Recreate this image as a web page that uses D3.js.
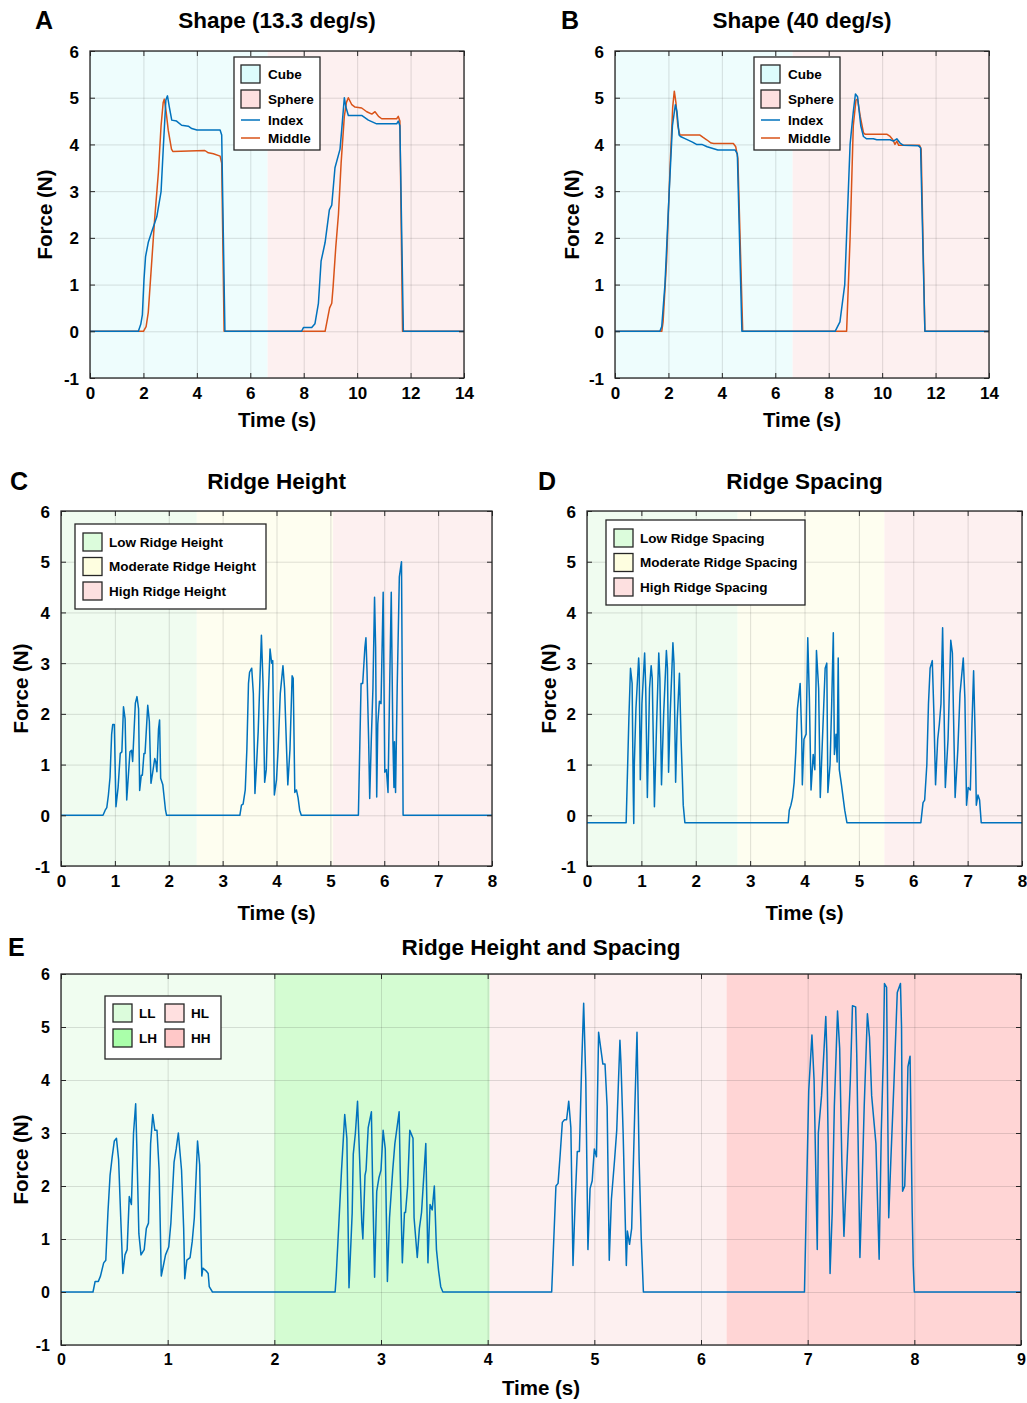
<!DOCTYPE html>
<html>
<head>
<meta charset="utf-8">
<script src="https://cdn.jsdelivr.net/npm/d3@7"></script>
<style>
  body { margin: 0; background: #fff; }
  svg text { font-family: "Liberation Sans", Arial, sans-serif; font-weight: bold; fill: #000; }
</style>
</head>
<body>
<div class="graphic"></div>
<script>
const W = 1027, H = 1403;

// ---- data (time s, force N) ----
const yTicks = [-1, 0, 1, 2, 3, 4, 5, 6];
const shapeTicks = [0, 2, 4, 6, 8, 10, 12, 14];
const ridgeTicks = [0, 1, 2, 3, 4, 5, 6, 7, 8];
const hsTicks = [0, 1, 2, 3, 4, 5, 6, 7, 8, 9];

const shapeRegions = [
  {name: "Cube", t0: 0, t1: 6.65},
  {name: "Sphere", t0: 6.65, t1: 14}
];
const heightRegions = [
  {name: "Low Ridge Height", t0: 0, t1: 2.52},
  {name: "Moderate Ridge Height", t0: 2.52, t1: 5.05},
  {name: "High Ridge Height", t0: 5.05, t1: 8}
];
const spacingRegions = [
  {name: "Low Ridge Spacing", t0: 0, t1: 2.77},
  {name: "Moderate Ridge Spacing", t0: 2.77, t1: 5.47},
  {name: "High Ridge Spacing", t0: 5.47, t1: 8}
];
const hsRegions = [
  {name: "LL", t0: 0, t1: 2.0},
  {name: "LH", t0: 2.0, t1: 4.02},
  {name: "HL", t0: 4.02, t1: 6.24},
  {name: "HH", t0: 6.24, t1: 9}
];

const slowIndex = [[0,0],[1.81,0],[1.9,0.15],[1.96,0.35],[2.02,1.1],[2.08,1.6],[2.18,1.9],[2.31,2.13],[2.5,2.45],
  [2.66,2.99],[2.75,4.0],[2.84,4.95],[2.9,5.04],[2.97,4.8],[3.06,4.52],[3.24,4.5],[3.43,4.41],[3.68,4.39],[3.81,4.34],
  [4.0,4.31],[4.87,4.31],[4.93,4.2],[5.05,0],[7.92,0],[7.99,0.08],[8.3,0.08],[8.42,0.16],[8.55,0.6],[8.65,1.5],
  [8.8,1.9],[8.96,2.6],[9.05,2.7],[9.17,3.5],[9.36,3.9],[9.42,4.3],[9.52,5.0],[9.58,4.8],[9.67,4.62],[10.17,4.62],
  [10.42,4.52],[10.73,4.44],[11.48,4.44],[11.54,4.5],[11.6,4.4],[11.73,0],[14,0]];
const slowMiddle = [[0,0],[2.0,0],[2.1,0.1],[2.18,0.4],[2.3,1.4],[2.42,2.4],[2.56,3.4],[2.66,4.4],[2.74,4.9],
  [2.78,4.97],[2.85,4.7],[2.93,4.3],[3.05,3.9],[3.1,3.85],[4.3,3.87],[4.43,3.82],[4.62,3.8],[4.87,3.75],[4.93,3.6],
  [5.02,0],[8.8,0],[8.97,0.5],[9.05,0.6],[9.1,0.95],[9.2,1.8],[9.3,2.5],[9.4,3.6],[9.52,4.6],[9.6,4.9],[9.67,5.0],
  [9.8,4.85],[9.92,4.8],[10.17,4.78],[10.36,4.7],[10.55,4.65],[10.67,4.7],[10.8,4.6],[10.92,4.55],[11.48,4.55],
  [11.54,4.6],[11.6,4.5],[11.7,0],[14,0]];
const fastIndex = [[0,0],[1.68,0],[1.75,0.1],[1.87,1.0],[2.03,3.0],[2.15,4.4],[2.26,4.85],[2.32,4.7],[2.4,4.2],
  [2.45,4.17],[2.6,4.13],[2.9,4.05],[3.05,4.0],[3.25,4.0],[3.45,3.95],[3.85,3.88],[4.5,3.88],[4.58,3.8],[4.66,2.0],
  [4.75,0],[8.24,0],[8.42,0.2],[8.6,1.0],[8.8,4.0],[8.92,4.7],[9.0,5.08],[9.08,5.02],[9.2,4.4],[9.3,4.17],[9.42,4.12],
  [9.67,4.12],[9.8,4.1],[10.3,4.1],[10.42,4.07],[10.55,4.12],[10.67,4.03],[10.8,3.98],[11.36,3.97],[11.44,3.93],
  [11.6,0],[14,0]];
const fastMiddle = [[0,0],[1.75,0],[1.8,0.2],[1.93,1.5],[2.06,3.5],[2.16,4.8],[2.22,5.14],[2.28,4.9],[2.35,4.4],
  [2.43,4.2],[3.18,4.2],[3.3,4.15],[3.43,4.1],[3.6,4.03],[3.7,4.02],[4.43,4.02],[4.52,3.95],[4.6,3.7],[4.78,0],
  [8.67,0],[8.8,2.0],[8.92,4.4],[9.02,4.95],[9.08,4.97],[9.18,4.6],[9.3,4.25],[9.36,4.22],[10.17,4.22],[10.3,4.17],
  [10.4,4.1],[10.48,4.0],[10.55,4.07],[10.62,3.98],[11.4,3.98],[11.46,3.9],[11.6,0],[14,0]];

const ridgeHeight = [[0,0],[0.78,0],[0.82,0.1],[0.85,0.15],[0.88,0.4],[0.91,0.75],[0.94,1.6],[0.96,1.79],[0.99,1.79],
  [1.02,0.17],[1.06,0.55],[1.1,1.22],[1.13,1.25],[1.16,2.14],[1.19,1.9],[1.22,0.3],[1.28,1.25],[1.31,1.28],[1.33,1.06],
  [1.38,2.21],[1.41,2.34],[1.44,2.1],[1.46,0.49],[1.49,0.79],[1.51,0.79],[1.54,1.22],[1.56,1.22],[1.61,2.17],
  [1.64,1.85],[1.67,0.63],[1.7,0.83],[1.74,1.12],[1.76,1.05],[1.78,0.86],[1.81,1.7],[1.83,1.88],[1.85,0.73],
  [1.89,0.6],[1.91,0.4],[1.94,0.1],[1.96,0],
  [3.32,0],[3.35,0.2],[3.38,0.22],[3.42,0.5],[3.45,1.3],[3.48,2.6],[3.5,2.82],[3.54,2.9],[3.57,2.4],[3.6,0.43],
  [3.63,1.0],[3.66,1.65],[3.69,2.6],[3.72,3.55],[3.75,2.6],[3.78,0.65],[3.81,0.9],[3.85,2.4],[3.88,3.28],[3.91,3.0],
  [3.93,3.05],[3.96,0.4],[4.0,0.7],[4.03,1.3],[4.07,2.4],[4.12,2.95],[4.15,2.5],[4.19,1.2],[4.21,0.6],[4.25,1.3],
  [4.29,2.75],[4.31,2.7],[4.34,0.45],[4.37,0.5],[4.4,0.35],[4.43,0.1],[4.46,0],
  [5.52,0],[5.57,2.6],[5.6,2.6],[5.64,3.3],[5.66,3.5],[5.68,2.85],[5.71,1.5],[5.73,0.33],[5.76,1.5],[5.79,2.5],
  [5.82,4.3],[5.84,3.3],[5.86,0.36],[5.88,1.8],[5.91,2.25],[5.94,2.2],[5.98,4.4],[6.01,0.85],[6.04,0.9],[6.07,0.45],
  [6.1,2.5],[6.13,4.4],[6.16,1.5],[6.18,0.55],[6.19,1.45],[6.21,0.45],[6.24,2.5],[6.28,4.7],[6.32,5.0],[6.35,0],[8,0]];

const ridgeSpacing = [[0,-0.145],[0.72,-0.145],[0.77,1.9],[0.8,2.9],[0.83,2.6],[0.85,0.5],[0.86,-0.16],[0.87,1.0],
  [0.9,2.1],[0.95,3.1],[0.96,2.9],[0.98,0.7],[1.01,2.2],[1.06,3.2],[1.08,2.5],[1.11,0.35],[1.15,2.5],[1.18,2.95],
  [1.2,2.7],[1.24,0.17],[1.28,1.8],[1.32,3.2],[1.34,2.7],[1.37,0.6],[1.41,2.0],[1.46,3.25],[1.48,2.9],[1.5,0.85],
  [1.53,2.0],[1.58,3.4],[1.6,3.0],[1.63,0.65],[1.66,1.9],[1.7,2.8],[1.73,1.5],[1.77,0.2],[1.8,-0.145],
  [3.7,-0.145],[3.72,0.1],[3.75,0.2],[3.78,0.35],[3.81,0.65],[3.84,1.25],[3.87,2.1],[3.92,2.6],[3.95,1.5],[3.96,0.6],
  [3.99,1.5],[4.03,1.6],[4.06,3.5],[4.09,2.3],[4.12,0.5],[4.16,1.2],[4.19,0.9],[4.22,3.25],[4.26,2.5],[4.29,0.35],
  [4.33,1.5],[4.38,2.9],[4.41,3.0],[4.43,0.45],[4.47,1.0],[4.5,2.2],[4.53,3.6],[4.55,1.2],[4.58,1.6],[4.6,1.05],
  [4.62,3.1],[4.64,0.9],[4.68,0.6],[4.74,0.1],[4.78,-0.145],
  [6.14,-0.145],[6.18,0.25],[6.21,0.3],[6.25,1.0],[6.28,2.2],[6.31,2.9],[6.35,3.05],[6.38,2.0],[6.41,0.6],[6.45,1.5],
  [6.48,1.8],[6.51,2.2],[6.54,3.7],[6.56,2.5],[6.59,0.55],[6.64,1.5],[6.69,3.45],[6.72,3.2],[6.74,2.0],[6.77,0.35],
  [6.82,1.3],[6.86,2.4],[6.92,3.1],[6.95,2.3],[6.98,0.2],[7.01,0.55],[7.05,0.5],[7.08,1.8],[7.11,2.85],[7.14,1.5],
  [7.16,0.2],[7.19,0.4],[7.22,0.3],[7.25,-0.145],[8,-0.145]];

const heightSpacing = [[0,0],[0.3,0],[0.32,0.2],[0.35,0.2],[0.37,0.3],[0.4,0.55],[0.42,0.6],[0.44,1.5],[0.46,2.2],
  [0.48,2.55],[0.5,2.85],[0.52,2.9],[0.54,2.5],[0.56,1.4],[0.58,0.35],[0.6,0.7],[0.62,0.8],[0.64,1.8],[0.66,1.65],
  [0.68,3.0],[0.7,3.55],[0.71,2.8],[0.73,1.1],[0.75,0.7],[0.78,0.8],[0.8,1.2],[0.82,1.3],[0.84,2.8],[0.86,3.35],
  [0.88,3.05],[0.9,3.05],[0.92,2.3],[0.94,0.3],[0.96,0.5],[0.98,0.7],[1.01,0.85],[1.03,1.3],[1.06,2.45],[1.08,2.7],
  [1.1,3.0],[1.13,2.3],[1.15,1.2],[1.16,0.25],[1.18,0.6],[1.21,0.65],[1.23,0.95],[1.25,1.4],[1.27,2.35],[1.28,2.85],
  [1.3,2.4],[1.32,0.3],[1.33,0.45],[1.36,0.4],[1.38,0.35],[1.39,0.1],[1.42,0],
  [2.57,0],[2.58,0.3],[2.61,1.5],[2.63,2.3],[2.66,3.35],[2.68,2.9],[2.7,0.08],[2.73,1.5],[2.74,2.6],[2.76,3.0],
  [2.78,3.6],[2.8,2.5],[2.82,1.3],[2.83,1.0],[2.85,2.2],[2.86,2.3],[2.88,3.1],[2.91,3.4],[2.92,2.2],[2.94,0.28],
  [2.96,1.9],[2.98,2.15],[3.0,2.3],[3.02,3.05],[3.04,2.7],[3.06,0.2],[3.08,1.4],[3.11,2.3],[3.13,2.8],[3.17,3.4],
  [3.18,2.3],[3.2,0.55],[3.22,1.5],[3.23,1.5],[3.25,2.0],[3.27,3.05],[3.3,2.9],[3.31,1.4],[3.34,0.65],[3.36,1.2],
  [3.38,1.5],[3.42,2.8],[3.44,0.55],[3.46,1.65],[3.48,1.55],[3.5,2.0],[3.52,0.8],[3.54,0.4],[3.56,0.1],[3.58,0],
  [4.6,0],[4.64,2.0],[4.66,2.05],[4.68,2.6],[4.7,3.2],[4.72,3.25],[4.74,3.25],[4.76,3.6],[4.78,3.1],[4.8,0.5],
  [4.82,1.7],[4.84,2.65],[4.86,2.65],[4.88,4.2],[4.9,5.45],[4.92,4.0],[4.94,0.8],[4.96,1.95],[4.98,2.1],[5.0,2.7],
  [5.02,2.55],[5.04,4.9],[5.06,4.6],[5.08,4.3],[5.1,4.3],[5.12,3.5],[5.14,0.6],[5.16,1.75],[5.19,2.5],[5.21,3.05],
  [5.24,4.75],[5.25,4.3],[5.27,3.0],[5.3,0.5],[5.31,1.15],[5.33,0.9],[5.35,1.2],[5.38,3.5],[5.4,4.9],[5.42,2.5],
  [5.44,1.0],[5.46,0],
  [6.97,0],[7.01,3.8],[7.04,4.85],[7.06,4.0],[7.09,0.8],[7.1,3.0],[7.13,3.7],[7.17,5.2],[7.18,4.5],[7.21,0.35],
  [7.23,1.5],[7.25,3.5],[7.28,5.3],[7.3,4.6],[7.32,2.5],[7.34,1.05],[7.37,2.5],[7.4,4.0],[7.42,5.4],[7.45,5.38],
  [7.46,4.5],[7.49,0.65],[7.51,2.0],[7.53,3.5],[7.56,5.25],[7.58,4.8],[7.6,3.7],[7.64,2.8],[7.67,0.62],[7.69,3.0],
  [7.71,4.5],[7.72,5.82],[7.74,5.75],[7.76,1.4],[7.78,2.5],[7.81,4.0],[7.84,5.65],[7.87,5.82],[7.88,5.0],[7.89,1.9],
  [7.91,2.0],[7.93,3.3],[7.94,4.25],[7.96,4.45],[7.98,1.5],[7.99,0.5],[8.0,0],[9,0]];

// ---- colours ----
const blue = "#0072BD", orange = "#D95319";
const bgColor = {
  "Cube": "#eefdfd", "Sphere": "#fdf0f0",
  "Low Ridge Height": "#f0fcf0", "Moderate Ridge Height": "#fefef0", "High Ridge Height": "#fdf0f0",
  "Low Ridge Spacing": "#f0fcf0", "Moderate Ridge Spacing": "#fefef0", "High Ridge Spacing": "#fdf0f0",
  "LL": "#f0fdf0", "LH": "#d4fcd2", "HL": "#fdf0f0", "HH": "#ffd5d5"
};
const swatchColor = {
  "Cube": "#dcfcfc", "Sphere": "#fde0e0",
  "Low Ridge Height": "#dcfcdc", "Moderate Ridge Height": "#fefee0", "High Ridge Height": "#fde0e0",
  "Low Ridge Spacing": "#dcfcdc", "Moderate Ridge Spacing": "#fefee0", "High Ridge Spacing": "#fde0e0",
  "LL": "#dcfcdc", "LH": "#aaffaa", "HL": "#ffe0e0", "HH": "#ffc8c8"
};

var svg = d3.select(".graphic")
  .append("svg")
  .attr("width", W)
  .attr("height", H);

const plainNum = (d) => String(d);

function drawPanel(p) {
  var x = d3.scaleLinear().domain(p.xDomain).range([0, p.w]);
  var y = d3.scaleLinear().domain([-1, 6]).range([p.h, 0]);
  var g = svg.append("g").attr("transform", "translate(" + p.left + "," + p.top + ")");

  // shaded condition regions
  g.selectAll("rect.bg")
    .data(p.regions)
    .enter()
    .append("rect")
    .attr("class", "bg")
    .attr("x", (d) => x(d.t0))
    .attr("width", (d) => x(d.t1) - x(d.t0))
    .attr("y", 0)
    .attr("height", p.h)
    .style("fill", (d) => bgColor[d.name]);

  // grid
  var gridX = g.append("g").attr("transform", "translate(0," + p.h + ")")
    .call(d3.axisBottom(x).tickValues(p.xTicks).tickSize(-p.h).tickFormat(""));
  var gridY = g.append("g")
    .call(d3.axisLeft(y).tickValues(yTicks).tickSize(-p.w).tickFormat(""));
  [gridX, gridY].forEach((a) => {
    a.select(".domain").remove();
    a.selectAll("line").style("stroke", "#262626").style("stroke-opacity", 0.14);
  });

  // traces
  var line = d3.line().x((d) => x(d[0])).y((d) => y(d[1]));
  p.series.forEach((s) => {
    g.append("path")
      .datum(s.data)
      .attr("d", line)
      .style("fill", "none")
      .style("stroke", s.color)
      .style("stroke-width", 1.5)
      .style("stroke-linejoin", "round");
  });

  // axes with inward ticks on all four sides
  var axB = g.append("g").attr("transform", "translate(0," + p.h + ")")
    .call(d3.axisBottom(x).tickValues(p.xTicks).tickSize(-5).tickPadding(9).tickFormat(plainNum));
  var axL = g.append("g")
    .call(d3.axisLeft(y).tickValues(yTicks).tickSize(-5).tickPadding(11).tickFormat(plainNum));
  var axT = g.append("g")
    .call(d3.axisTop(x).tickValues(p.xTicks).tickSize(-5).tickFormat(""));
  var axR = g.append("g").attr("transform", "translate(" + p.w + ",0)")
    .call(d3.axisRight(y).tickValues(yTicks).tickSize(-5).tickFormat(""));
  [axB, axL, axT, axR].forEach((a) => {
    a.select(".domain").remove();
    a.selectAll("line").style("stroke", "#262626");
    a.selectAll("text").style("font-size", p.tickFont + "px").style("font-family", null);
  });
  axL.selectAll("text").attr("dy", "0.36em");

  g.append("rect")
    .attr("width", p.w)
    .attr("height", p.h)
    .style("fill", "none")
    .style("stroke", "#262626")
    .style("stroke-width", 1.3);

  // labels
  svg.append("text")
    .attr("x", p.left + p.w / 2)
    .attr("y", p.top - p.titleGap)
    .attr("text-anchor", "middle")
    .style("font-size", "22.5px")
    .text(p.title);
  svg.append("text")
    .attr("x", p.letterX)
    .attr("y", p.top - p.titleGap + 1)
    .style("font-size", "25px")
    .text(p.letter);
  svg.append("text")
    .attr("x", p.left + p.w / 2)
    .attr("y", p.top + p.h + p.xLabelGap)
    .attr("text-anchor", "middle")
    .style("font-size", "20.5px")
    .text("Time (s)");
  svg.append("text")
    .attr("transform", "translate(" + (p.left - p.yLabelGap) + "," + (p.top + p.h / 2) + ") rotate(-90)")
    .attr("text-anchor", "middle")
    .style("font-size", "20.5px")
    .text("Force (N)");

  drawLegend(g, p);
}

function drawLegend(g, p) {
  var L = p.legend;
  var lg = g.append("g").attr("transform", "translate(" + L.x + "," + L.y + ")");
  lg.append("rect")
    .attr("width", L.w)
    .attr("height", L.h)
    .style("fill", "#fff")
    .style("stroke", "#262626")
    .style("stroke-width", 1.3);
  L.items.forEach((it) => {
    var row = lg.append("g").attr("transform", "translate(" + it.x + "," + it.y + ")");
    if (it.kind === "patch") {
      row.append("rect")
        .attr("x", 0).attr("y", -9)
        .attr("width", L.sw).attr("height", 18)
        .style("fill", swatchColor[it.name])
        .style("stroke", "#262626")
        .style("stroke-width", 1.3);
    } else {
      row.append("line")
        .attr("x1", 0).attr("x2", L.sw)
        .style("stroke", it.color)
        .style("stroke-width", 1.5);
    }
    row.append("text")
      .attr("x", L.sw + L.gap)
      .attr("dy", "0.36em")
      .style("font-size", "13.5px")
      .text(it.name);
  });
}

function shapeLegend(xl) {
  return {
    x: xl, y: 6, w: 86, h: 93, sw: 19, gap: 8,
    items: [
      {kind: "patch", name: "Cube", x: 7, y: 17},
      {kind: "patch", name: "Sphere", x: 7, y: 42},
      {kind: "line", name: "Index", color: blue, x: 7, y: 63},
      {kind: "line", name: "Middle", color: orange, x: 7, y: 81}
    ]
  };
}

function ridgeLegend(w, names) {
  return {
    x: 14, y: 13, w: w, h: 85, sw: 19, gap: 7,
    items: names.map((n, i) => ({kind: "patch", name: n, x: 8, y: 18 + i * 24.5}))
  };
}

drawPanel({
  letter: "A", letterX: 35, title: "Shape (13.3 deg/s)",
  left: 90, top: 51, w: 374, h: 327, xDomain: [0, 14], xTicks: shapeTicks,
  regions: shapeRegions, tickFont: 17, titleGap: 23, xLabelGap: 49, yLabelGap: 38,
  series: [{data: slowMiddle, color: orange}, {data: slowIndex, color: blue}],
  legend: shapeLegend(144)
});

drawPanel({
  letter: "B", letterX: 561, title: "Shape (40 deg/s)",
  left: 615, top: 51, w: 374, h: 327, xDomain: [0, 14], xTicks: shapeTicks,
  regions: shapeRegions, tickFont: 17, titleGap: 23, xLabelGap: 49, yLabelGap: 36,
  series: [{data: fastMiddle, color: orange}, {data: fastIndex, color: blue}],
  legend: shapeLegend(139)
});

drawPanel({
  letter: "C", letterX: 10, title: "Ridge Height",
  left: 61, top: 511, w: 431, h: 355, xDomain: [0, 8], xTicks: ridgeTicks,
  regions: heightRegions, tickFont: 17, titleGap: 22, xLabelGap: 54, yLabelGap: 33,
  series: [{data: ridgeHeight, color: blue}],
  legend: ridgeLegend(191, heightRegions.map((d) => d.name))
});

drawPanel({
  letter: "D", letterX: 538, title: "Ridge Spacing",
  left: 587, top: 511, w: 435, h: 355, xDomain: [0, 8], xTicks: ridgeTicks,
  regions: spacingRegions, tickFont: 17, titleGap: 22, xLabelGap: 54, yLabelGap: 31,
  series: [{data: ridgeSpacing, color: blue}],
  legend: Object.assign(ridgeLegend(199, spacingRegions.map((d) => d.name)), {x: 19, y: 9})
});

drawPanel({
  letter: "E", letterX: 8, title: "Ridge Height and Spacing",
  left: 61, top: 974, w: 960, h: 371, xDomain: [0, 9], xTicks: hsTicks,
  regions: hsRegions, tickFont: 16, titleGap: 19, xLabelGap: 50, yLabelGap: 33,
  series: [{data: heightSpacing, color: blue}],
  legend: {
    x: 44, y: 22, w: 116, h: 63, sw: 19, gap: 7,
    items: [
      {kind: "patch", name: "LL", x: 8, y: 17},
      {kind: "patch", name: "HL", x: 60, y: 17},
      {kind: "patch", name: "LH", x: 8, y: 42},
      {kind: "patch", name: "HH", x: 60, y: 42}
    ]
  }
});
</script>
</body>
</html>
